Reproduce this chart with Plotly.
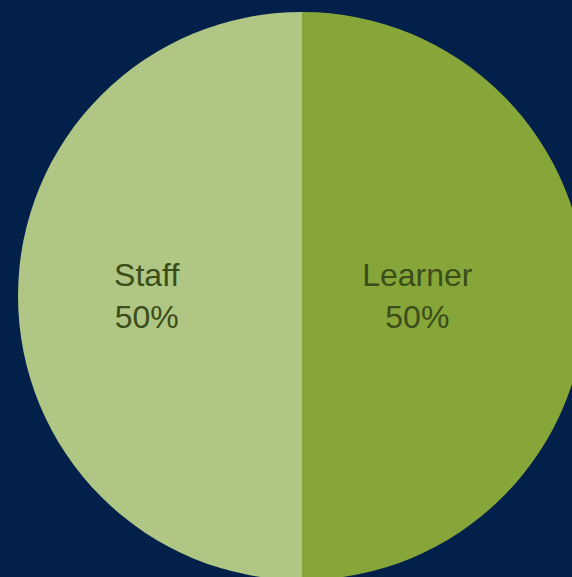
import plotly.graph_objects as go

labels = ["Learner", "Staff"]
values = [50, 50]
colors = ["#86a63a", "#afc684"]
pad = ["\u00a0" * 6, "\u00a0" * 3]

W, H = 590, 581
CX, CY, R = 302, 296, 284

fig = go.Figure(go.Pie(
    labels=labels,
    values=values,
    customdata=pad,
    sort=False,
    direction="clockwise",
    rotation=0,
    marker=dict(colors=colors, line=dict(width=0)),
    texttemplate="%{label}%{customdata}<br>%{percent:.0%}%{customdata}",
    textposition="inside",
    insidetextorientation="horizontal",
    textfont=dict(family="Liberation Sans", size=32, color="#3b4d18"),
    showlegend=False,
    hoverinfo="label+percent",
    domain=dict(x=[(CX - R) / W, (CX + R) / W],
                y=[(H - CY - R) / H, (H - CY + R) / H]),
))

fig.update_layout(
    width=W,
    height=H,
    margin=dict(l=0, r=0, t=0, b=0),
    paper_bgcolor="#03204a",
    plot_bgcolor="#03204a",
)

post = ("document.body.style.margin='0';"
        "document.body.style.overflow='hidden';"
        "document.documentElement.style.overflow='hidden';"
        "document.body.style.background='#03204a';")

fig.write_html("out.html", post_script=post, config={"displayModeBar": False})
